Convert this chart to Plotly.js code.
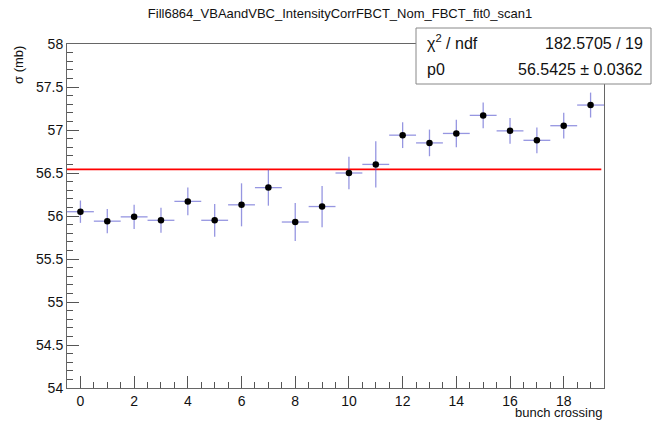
<!DOCTYPE html>
<html>
<head>
<meta charset="utf-8">
<script src="https://cdn.plot.ly/plotly-3.0.1.min.js"></script>
<style>html,body{margin:0;padding:0;background:#fff;}#chart{width:652px;height:423px;}</style>
</head>
<body>
<div id="chart"></div>
<script>
// Data
const bunches = [0,1,2,3,4,5,6,7,8,9,10,11,12,13,14,15,16,17,18,19];
const sigma = [56.05,55.94,55.99,55.95,56.17,55.95,56.13,56.33,55.93,56.11,56.50,56.60,56.94,56.85,56.96,57.17,56.99,56.88,57.05,57.29];
const sigmaErr = [0.13,0.14,0.14,0.145,0.16,0.19,0.25,0.21,0.22,0.24,0.19,0.27,0.15,0.155,0.16,0.15,0.15,0.15,0.15,0.145];
const binHalfWidth = 0.5;
const fitP0 = 56.5425;
const fitP0Err = 0.0362;
const chi2 = 182.5705;
const ndf = 19;
const titleText = "Fill6864_VBAandVBC_IntensityCorrFBCT_Nom_FBCT_fit0_scan1";

const W = 652, H = 423;
const M = {l: 67, r: 48, t: 44, b: 35};
const pw = W - M.l - M.r, ph = H - M.t - M.b;
const px = x => (x - M.l) / pw;
const py = y => (H - M.b - y) / ph;

const xMin = Math.min(...bunches) - binHalfWidth;
const xMax = Math.max(...bunches) + binHalfWidth;

const font = "Liberation Sans, Arial, Helvetica, sans-serif";
const errColor = 'rgba(80,80,205,0.6)';

const traces = [
  {
    x: [xMin, xMax - 0.1], y: [fitP0, fitP0],
    mode: 'lines', line: {color: '#ff0000', width: 1.6},
    hoverinfo: 'skip', showlegend: false
  },
  {
    x: bunches, y: sigma, mode: 'markers',
    marker: {color: '#000', size: 6.5},
    error_y: {type: 'data', array: sigmaErr, visible: true, color: errColor, thickness: 1.3, width: 0},
    error_x: {type: 'constant', value: binHalfWidth, visible: true, color: errColor, thickness: 1.3, width: 0},
    showlegend: false
  }
];

const layout = {
  width: W, height: H,
  margin: M,
  paper_bgcolor: '#fff', plot_bgcolor: '#fff',
  font: {family: font, size: 14, color: '#111'},
  title: {text: titleText, font: {family: font, size: 13, color: '#111'}, xref: 'container', x: 340 / W, xanchor: 'center', yref: 'container', y: 1 - 13 / H, yanchor: 'middle'},
  xaxis: {
    range: [xMin, xMax], dtick: 2, tick0: 0,
    ticks: 'inside', ticklen: 12, tickcolor: '#555', tickwidth: 1,
    minor: {dtick: 0.5, tick0: 0, ticks: 'inside', ticklen: 6, tickcolor: '#555'},
    showline: true, linecolor: '#666', linewidth: 1, mirror: true,
    showgrid: false, zeroline: false,
    tickfont: {size: 14, color: '#111'}
  },
  yaxis: {
    range: [54, 58], dtick: 0.5, tick0: 54,
    ticks: 'inside', ticklen: 12, tickcolor: '#555', tickwidth: 1,
    minor: {dtick: 0.1, tick0: 54, ticks: 'inside', ticklen: 6, tickcolor: '#555'},
    showline: true, linecolor: '#666', linewidth: 1, mirror: true,
    showgrid: false, zeroline: false,
    tickfont: {size: 14, color: '#111'}
  },
  shapes: [
    {type: 'rect', xref: 'paper', yref: 'paper', x0: px(416), x1: px(651), y0: py(84), y1: py(28),
     line: {color: '#888', width: 1}, fillcolor: '#fff', layer: 'above'}
  ],
  annotations: [
    {xref: 'paper', yref: 'paper', x: px(425), y: py(42), xanchor: 'left', yanchor: 'middle', showarrow: false,
     text: 'χ<sup>2</sup> / ndf', font: {size: 16, color: '#111'}},
    {xref: 'paper', yref: 'paper', x: px(645), y: py(43), xanchor: 'right', yanchor: 'middle', showarrow: false,
     text: chi2.toFixed(4) + ' / ' + ndf, font: {size: 16, color: '#111'}},
    {xref: 'paper', yref: 'paper', x: px(425), y: py(69), xanchor: 'left', yanchor: 'middle', showarrow: false,
     text: 'p0', font: {size: 16, color: '#111'}},
    {xref: 'paper', yref: 'paper', x: px(645), y: py(69), xanchor: 'right', yanchor: 'middle', showarrow: false,
     text: fitP0.toFixed(4) + ' ± ' + fitP0Err.toFixed(4), font: {size: 16, color: '#111'}},
    {xref: 'paper', yref: 'paper', x: px(604), y: py(413), xanchor: 'right', yanchor: 'middle', showarrow: false,
     text: 'bunch crossing', font: {size: 13, color: '#111'}},
    {xref: 'paper', yref: 'paper', x: px(18), y: py(44), xanchor: 'center', yanchor: 'top', showarrow: false,
     textangle: -90, text: 'σ (mb)', font: {size: 13, color: '#111'}}
  ]
};

Plotly.newPlot('chart', traces, layout, {displayModeBar: false, staticPlot: true});
</script>
</body>
</html>
